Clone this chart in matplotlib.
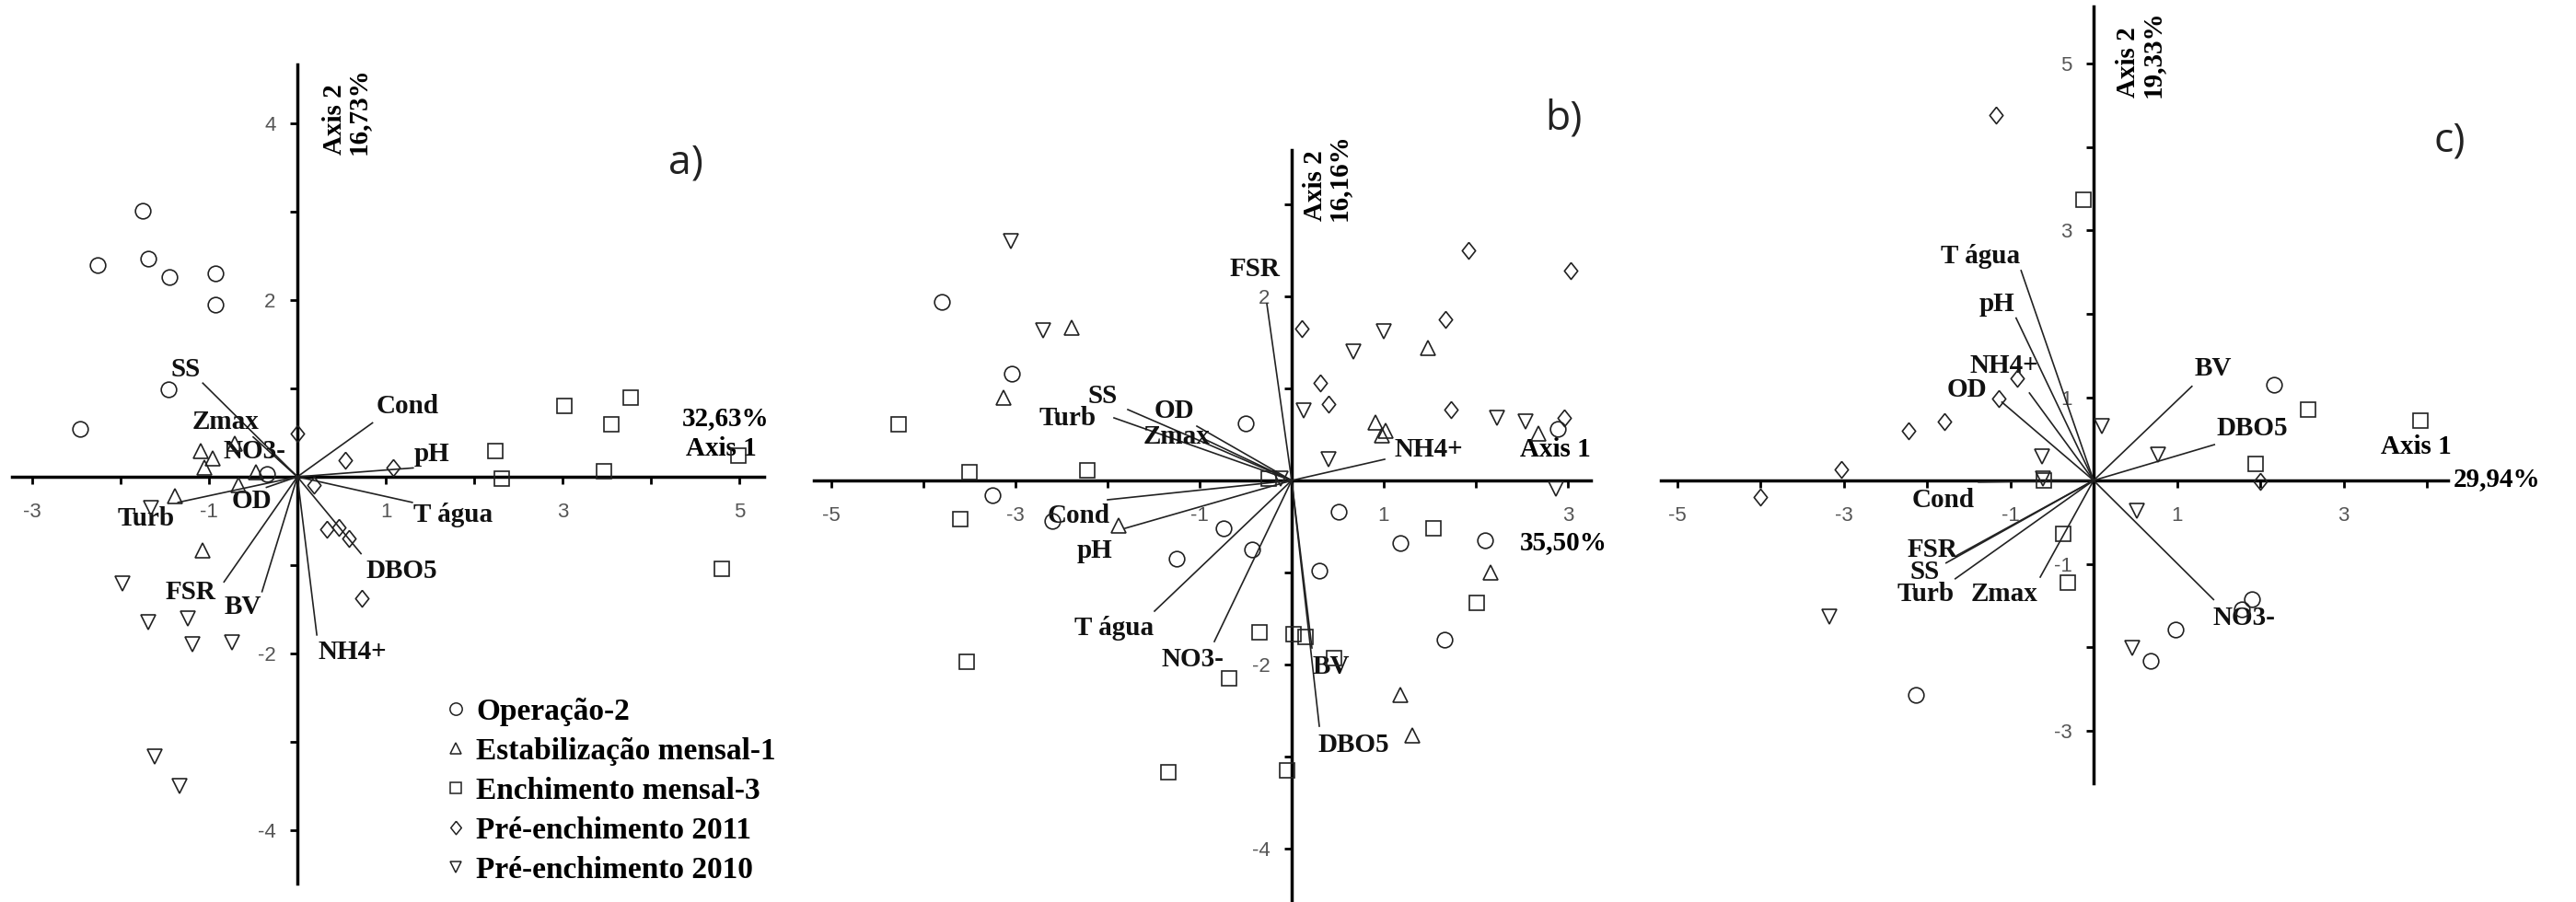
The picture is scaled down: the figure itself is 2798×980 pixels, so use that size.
import matplotlib
matplotlib.use('Agg')
import matplotlib.pyplot as plt
from matplotlib.lines import Line2D

plt.rcParams['axes.unicode_minus'] = False

# ---- dados (escores e vetores da PCA) ----
grupos = ['Operação-2', 'Estabilização mensal-1', 'Enchimento mensal-3',
          'Pré-enchimento 2011', 'Pré-enchimento 2010']

# painel a
a_operacao = [(-1.75, 3.01), (-2.26, 2.40), (-1.69, 2.47), (-1.45, 2.26), (-0.93, 2.30),
              (-0.93, 1.95), (-1.46, 0.99), (-2.46, 0.54), (-0.34, 0.03)]
a_estab = [(-1.09, 0.29), (-0.96, 0.21), (-1.05, 0.10), (-0.71, 0.38), (-0.47, 0.05),
           (-0.67, -0.09), (-1.39, -0.22), (-1.07, -0.83)]
a_ench = [(3.02, 0.80), (3.77, 0.90), (3.55, 0.59), (2.24, 0.29), (2.31, -0.02),
          (3.47, 0.06), (4.99, 0.24), (4.80, -1.04)]
a_pre11 = [(0.0, 0.49), (0.54, 0.19), (1.08, 0.10), (0.19, -0.09), (0.33, -0.59),
           (0.47, -0.57), (0.58, -0.70), (0.73, -1.38)]
a_pre10 = [(-1.66, -0.35), (-1.98, -1.21), (-1.69, -1.65), (-1.24, -1.60), (-1.19, -1.90),
           (-0.74, -1.88), (-1.61, -3.17), (-1.33, -3.50)]
a_vars = ['SS', 'Zmax', 'NO3-', 'Cond', 'pH', 'T água', 'DBO5', 'NH4+', 'BV', 'FSR', 'Turb', 'OD']
a_vec = [(-1.07, 1.06), (-0.50, 0.45), (-0.22, 0.20), (0.85, 0.61), (1.31, 0.10), (1.30, -0.29),
         (0.72, -0.87), (0.22, -1.79), (-0.40, -1.30), (-0.83, -1.19), (-1.35, -0.29), (-0.35, -0.12)]

# painel b
b_operacao = [(-3.80, 1.94), (-3.04, 1.16), (-0.50, 0.62), (2.89, 0.56), (-3.25, -0.16),
              (-2.60, -0.44), (-0.74, -0.52), (-0.43, -0.75), (-1.25, -0.85), (0.51, -0.34),
              (0.30, -0.98), (1.18, -0.68), (2.10, -0.65), (1.66, -1.73)]
b_estab = [(-3.13, 0.90), (-2.39, 1.66), (1.48, 1.44), (0.91, 0.63), (1.02, 0.54), (0.98, 0.49),
           (2.68, 0.51), (-1.88, -0.49), (2.16, -1.00), (1.18, -2.33), (1.31, -2.77)]
b_ench = [(-4.27, 0.61), (-3.50, 0.09), (-2.22, 0.11), (-3.60, -0.42), (-3.53, -1.97),
          (-0.35, -1.65), (0.02, -1.67), (0.15, -1.70), (-0.68, -2.15), (0.46, -1.93),
          (-1.34, -3.17), (-0.05, -3.15), (1.54, -0.52), (2.01, -1.33), (-0.25, 0.02)]
b_pre11 = [(1.92, 2.50), (3.03, 2.28), (0.11, 1.65), (1.67, 1.75), (0.31, 1.06), (0.40, 0.83),
           (1.73, 0.77), (2.96, 0.68)]
b_pre10 = [(-3.05, 2.60), (-2.70, 1.63), (0.67, 1.40), (1.00, 1.62), (0.13, 0.76), (2.23, 0.68),
           (2.54, 0.64), (0.40, 0.23), (2.87, -0.09), (-0.12, 0.02)]
b_vars = ['FSR', 'SS', 'Turb', 'OD', 'Zmax', 'Cond', 'pH', 'T água', 'NO3-', 'BV', 'DBO5', 'NH4+']
b_vec = [(-0.27, 1.92), (-1.78, 0.77), (-1.93, 0.68), (-1.03, 0.59), (-0.95, 0.45), (-2.00, -0.21),
         (-1.81, -0.52), (-1.49, -1.42), (-0.84, -1.75), (0.22, -1.82), (0.30, -2.67), (1.01, 0.23)]

# painel c
c_operacao = [(2.17, 1.15), (1.90, -1.42), (1.78, -1.55), (0.98, -1.79), (0.68, -2.17), (-2.13, -2.58)]
c_estab = []
c_ench = [(-0.12, 3.37), (2.57, 0.85), (3.92, 0.72), (1.94, 0.20), (-0.37, -0.64), (-0.31, -1.23),
          (-0.60, 0.00)]
c_pre11 = [(-1.17, 4.39), (-0.92, 1.23), (-1.14, 0.98), (-1.79, 0.71), (-2.22, 0.60), (-3.03, 0.13),
           (-4.00, -0.20), (2.00, -0.01)]
c_pre10 = [(0.10, 0.65), (-0.62, 0.29), (0.77, 0.31), (-0.61, 0.02), (0.52, -0.37), (0.46, -2.01),
           (-3.17, -1.63)]
c_vars = ['T água', 'pH', 'NH4+', 'OD', 'BV', 'DBO5', 'Cond', 'FSR', 'SS', 'Turb', 'Zmax', 'NO3-']
c_vec = [(-0.87, 2.52), (-0.93, 1.95), (-0.77, 1.05), (-1.10, 0.94), (1.18, 1.13), (1.45, 0.43),
         (-1.38, -0.02), (-1.64, -0.90), (-1.77, -0.99), (-1.66, -1.18), (-0.64, -1.16), (1.44, -1.43)]

# posicao dos rotulos das variaveis (layout)
a_lab = [(-1.26, 1.21), (-0.81, 0.62), (-0.48, 0.29), (1.25, 0.80), (1.52, 0.26), (1.76, -0.43),
         (1.18, -1.07), (0.62, -1.98), (-0.62, -1.47), (-1.21, -1.31), (-1.71, -0.47), (-0.52, -0.28)]
b_lab = [(-0.40, 2.29), (-2.05, 0.92), (-2.43, 0.67), (-1.28, 0.76), (-1.25, 0.47), (-2.31, -0.39),
         (-2.14, -0.76), (-1.93, -1.60), (-1.08, -1.95), (0.43, -2.02), (0.67, -2.87), (1.49, 0.33)]
c_lab = [(-1.36, 2.69), (-1.16, 2.12), (-1.07, 1.38), (-1.52, 1.09), (1.43, 1.34), (1.90, 0.62),
         (-1.80, -0.24), (-1.93, -0.83), (-2.03, -1.10), (-2.01, -1.36), (-1.07, -1.36), (1.81, -1.65)]

eixo1 = ['32,63%', '35,50%', '29,94%']
eixo2 = ['16,73%', '16,16%', '19,33%']

# ---- estilo ----
W, H = 2798, 980
fig = plt.figure(figsize=(W / 100, H / 100), dpi=100)
fig.patch.set_facecolor('white')

serif = {'family': 'Liberation Serif', 'weight': 'bold', 'size': 21}
serif_leg = {'family': 'Liberation Serif', 'weight': 'bold', 'size': 24}
diamante = [(0, 1), (0.8, 0), (0, -1), (-0.8, 0), (0, 1)]
marcadores = [('o', 12), ('^', 11.5), ('s', 11), (diamante, 13), ('v', 11.5)]
cor = '#222222'


def painel(origem, unidade, xlim, ylim):
    ox, oy = origem
    left = (ox + xlim[0] * unidade) / W
    bottom = (H - oy + ylim[0] * unidade) / H
    ax = fig.add_axes([left, bottom, (xlim[1] - xlim[0]) * unidade / W,
                       (ylim[1] - ylim[0]) * unidade / H])
    ax.set_xlim(xlim)
    ax.set_ylim(ylim)
    ax.patch.set_alpha(0)
    for s in ['top', 'right']:
        ax.spines[s].set_visible(False)
    ax.spines['left'].set_position(('data', 0))
    ax.spines['bottom'].set_position(('data', 0))
    for s in ['left', 'bottom']:
        ax.spines[s].set_linewidth(2.5)
        ax.spines[s].set_color('black')
    ax.tick_params(axis='both', length=6, width=2, color='black', labelsize=16,
                   labelcolor='#555555', labelfontfamily='Liberation Sans')
    ax.tick_params(axis='x', pad=14)
    ax.tick_params(axis='y', pad=11)
    return ax


def ticks(ax, xt, xl, yt, yl):
    ax.set_xticks(xt)
    ax.set_xticklabels([str(v) if v in xl else '' for v in xt])
    ax.set_yticks(yt)
    ax.set_yticklabels([str(v) if v in yl else '' for v in yt])


def desenha(ax, series, nomes, vec, lab):
    for (vx, vy), (lx, ly), nome in zip(vec, lab, nomes):
        ax.plot([0, vx], [0, vy], color=cor, lw=1.2, zorder=3)
        ax.text(lx, ly, nome, ha='center', va='center', color='#111111', fontdict=serif, zorder=4)
    for pts, (m, ms) in zip(series, marcadores):
        if not pts:
            continue
        xs = [p[0] for p in pts]
        ys = [p[1] for p in pts]
        ax.plot(xs, ys, linestyle='none', marker=m, ms=ms, mfc='none', mec=cor, mew=1.2, zorder=5)


# painel a
ax1 = painel((323, 518), 96, (-3.4, 5.5), (-4.75, 4.85))
ax1.spines['bottom'].set_bounds(-3.23, 5.28)
ax1.spines['left'].set_bounds(-4.6, 4.67)
ticks(ax1, [-3, -2, -1, 1, 2, 3, 4, 5], [-3, -1, 1, 3, 5], [-4, -3, -2, -1, 1, 2, 3, 4], [-4, -2, 2, 4])
desenha(ax1, [a_operacao, a_estab, a_ench, a_pre11, a_pre10], a_vars, a_vec, a_lab)
ax1.text(4.84, 0.66, eixo1[0], ha='center', va='center', fontdict=serif)
ax1.text(4.80, 0.32, 'Axis 1', ha='center', va='center', fontdict=serif)
ax1.text(0.28, 3.65, 'Axis 2\n' + eixo2[0], rotation=90, ha='left', va='bottom',
         multialignment='left', linespacing=0.95, fontdict=serif)
ax1.text(4.39, 3.55, 'a)', ha='center', va='center', family='Open Sans', size=32, color='#222222')

hs = [Line2D([], [], linestyle='none', marker=m, ms=ms * 0.8, mfc='none', mec=cor, mew=1.1)
      for m, ms in marcadores]
leg = ax1.legend(hs, grupos, loc='upper left', bbox_to_anchor=(1.69, -2.50), bbox_transform=ax1.transData,
                 frameon=False, prop=serif_leg, handlelength=0.6, handletextpad=0.35, labelspacing=0.36,
                 borderpad=0, borderaxespad=0)

# painel b
ax2 = painel((1403, 522), 100, (-5.3, 3.5), (-4.55, 3.75))
ax2.spines['bottom'].set_bounds(-5.19, 3.25)
ax2.spines['left'].set_bounds(-4.56, 3.59)
ticks(ax2, [-5, -4, -3, -2, -1, 1, 2, 3], [-5, -3, -1, 1, 3], [-4, -3, -2, -1, 1, 2, 3], [-4, -2, 2])
desenha(ax2, [b_operacao, b_estab, b_ench, b_pre11, b_pre10], b_vars, b_vec, b_lab)
ax2.text(2.86, 0.33, 'Axis 1', ha='center', va='center', fontdict=serif)
ax2.text(2.95, -0.68, eixo1[1], ha='center', va='center', fontdict=serif)
ax2.text(0.12, 2.82, 'Axis 2\n' + eixo2[1], rotation=90, ha='left', va='bottom',
         multialignment='left', linespacing=0.95, fontdict=serif)
ax2.text(2.95, 3.93, 'b)', ha='center', va='center', family='Open Sans', size=32, color='#222222')

# painel c
ax3 = painel((2274, 522), 90.5, (-5.3, 4.6), (-3.8, 5.8))
ax3.spines['bottom'].set_bounds(-5.19, 4.25)
ax3.spines['left'].set_bounds(-3.63, 5.69)
ticks(ax3, [-5, -4, -3, -2, -1, 1, 2, 3, 4], [-5, -3, -1, 1, 3], [-3, -2, -1, 1, 2, 3, 4, 5], [-3, -1, 1, 3, 5])
desenha(ax3, [c_operacao, c_estab, c_ench, c_pre11, c_pre10], c_vars, c_vec, c_lab)
ax3.text(3.87, 0.40, 'Axis 1', ha='center', va='center', fontdict=serif)
ax3.text(4.32, 0.02, eixo1[2], ha='left', va='center', fontdict=serif)
ax3.text(0.27, 4.6, 'Axis 2\n' + eixo2[2], rotation=90, ha='left', va='bottom',
         multialignment='left', linespacing=0.95, fontdict=serif)
ax3.text(4.27, 4.07, 'c)', ha='center', va='center', family='Open Sans', size=32, color='#222222')

plt.savefig('out.png', dpi=100)
